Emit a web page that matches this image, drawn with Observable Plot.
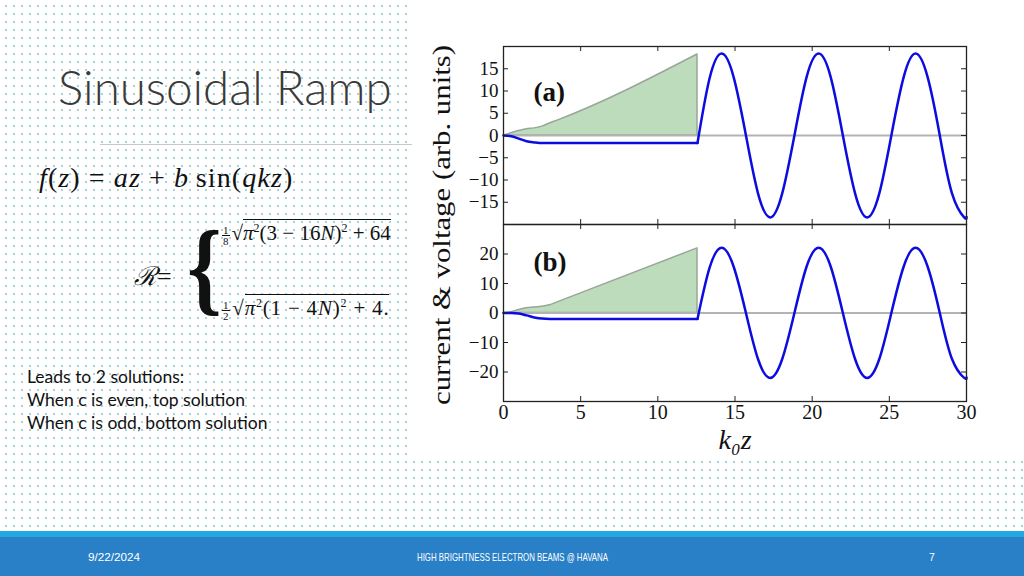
<!DOCTYPE html>
<html>
<head>
<meta charset="utf-8">
<script src="https://cdn.jsdelivr.net/npm/d3@7"></script>
<script src="https://cdn.jsdelivr.net/npm/@observablehq/plot@0.6"></script>
<style>
html,body{margin:0;padding:0;}
body{width:1024px;height:576px;position:relative;overflow:hidden;background-color:#fff;
  background-image:radial-gradient(circle, #a8d3dc 0.8px, rgba(255,255,255,0) 1.3px);
  background-size:8px 8px;background-position:2px 2px;font-family:Lato,"Open Sans",sans-serif;}
.abs{position:absolute;}
#whitebox{left:410px;top:0;width:614px;height:460px;background:#fff;}
#title{left:58px;top:56px;font-family:Lato,sans-serif;font-weight:300;font-size:47.5px;color:#3a3a3a;white-space:nowrap;line-height:62px;}
#rule{left:100px;top:144px;width:312px;height:0;border-top:1.5px solid #c8c8c8;}
.math{font-family:"Liberation Serif",serif;color:#111;white-space:nowrap;}
.fr{display:inline-flex;flex-direction:column;align-items:center;font-size:11px;line-height:10px;vertical-align:middle;margin-right:2px;}
.fr span:first-child{border-bottom:0.8px solid #111;padding:0 1px;}
.rad{border-top:1px solid #111;padding-top:1px;}
sup{font-size:12px;}
#notes{left:27px;top:365px;font-size:17.5px;line-height:23px;color:#111;font-family:Lato,sans-serif;}
#footlight{left:0;top:531px;width:1024px;height:6px;background:#22a7e2;}
#footdark{left:0;top:537px;width:1024px;height:39px;background:#2a80c6;}
.plot{position:absolute;}
</style>
</head>
<body>
<div class="abs" id="whitebox"></div>
<div class="abs" id="title">Sinusoidal Ramp</div>
<div class="abs" id="rule"></div>
<div class="abs math" style="left:39px;top:162px;font-size:28px;letter-spacing:1.1px;"><i>f</i>(<i>z</i>) = <i>az</i> + <i>b</i>&#8201;sin(<i>qkz</i>)</div>
<div class="abs math" style="left:134px;top:257px;font-size:26px;"><i>ℛ</i>=</div>
<div class="abs math" style="left:184px;top:207px;font-size:104px;line-height:120px;font-weight:bold;transform:scaleX(0.85);">{</div>
<div class="abs math" style="left:222px;top:221px;font-size:21px;"><span class="fr"><span>1</span><span>8</span></span>√<span class="rad"><i>π</i><sup>2</sup>(3 − 16<i>N</i>)<sup>2</sup> + 64</span></div>
<div class="abs math" style="left:222px;top:296px;font-size:21px;letter-spacing:0.8px;"><span class="fr"><span>1</span><span>2</span></span>√<span class="rad"><i>π</i><sup>2</sup>(1 − 4<i>N</i>)<sup>2</sup> + 4.</span></div>
<div class="abs" id="notes">Leads to 2 solutions:<br>When c is even, top solution<br>When c is odd, bottom solution</div>
<div class="abs" id="footlight"></div>
<div class="abs" id="footdark"></div>
<div id="pa" class="plot" style="left:440px;top:30px;"></div>
<div id="pb" class="plot" style="left:440px;top:210px;"></div>
<svg class="abs" style="left:0;top:0;pointer-events:none" width="1024" height="576">
  <text transform="translate(450,225) rotate(-90)" text-anchor="middle" font-family="Liberation Serif, serif" font-size="26" fill="#111" textLength="360" lengthAdjust="spacingAndGlyphs">current &amp; voltage (arb. units)</text>
  <g font-family="Liberation Sans, sans-serif" font-size="10.5" fill="#fff">
    <text x="88" y="561" textLength="52" lengthAdjust="spacingAndGlyphs">9/22/2024</text>
    <text x="417" y="561" textLength="191" lengthAdjust="spacingAndGlyphs">HIGH BRIGHTNESS ELECTRON BEAMS @ HAVANA</text>
    <text x="929" y="561">7</text>
  </g>
</svg>
<script>
// ---- data ----
const xTicks = [0, 5, 10, 15, 20, 25, 30];
const yTicksA = [-15, -10, -5, 0, 5, 10, 15];
const yTicksB = [-20, -10, 0, 10, 20];

// panel (a)
const rampXA = [0, 0.5, 1, 1.5, 2, 2.5, 3, 3.5, 12.57];
const rampYA = [0, 0.5, 1.0, 1.4, 1.6, 2.0, 2.7, 3.35, 18.2];
const flatXA = [0, 0.5, 1, 1.5, 2, 2.5, 3, 12.57];
const flatYA = [0, -0.15, -0.7, -1.3, -1.55, -1.7, -1.7, -1.7];
const waveX = [12.57, 13.35, 14.14, 14.92, 15.71, 16.49, 17.28, 18.06, 18.85, 19.63, 20.42, 21.21, 21.99, 22.78, 23.56, 24.35, 25.13, 25.92, 26.70, 27.49, 28.27, 29.06, 29.85, 30];
const waveYA = [-1.7, 12.8, 18.4, 13.0, 0, -13.0, -18.4, -13.0, 0, 13.0, 18.4, 13.0, 0, -13.0, -18.4, -13.0, 0, 13.0, 18.4, 13.0, 0, -13.0, -18.4, -18.3];

// panel (b)
const rampXB = [0, 0.5, 1, 1.5, 2, 2.5, 3, 3.5, 12.57];
const rampYB = [0, 0.3, 1.0, 1.6, 1.9, 2.1, 2.6, 3.6, 21.9];
const flatXB = [0, 0.5, 1, 1.5, 2, 2.5, 3, 12.57];
const flatYB = [0, 0, -0.2, -0.8, -1.5, -1.9, -2.0, -2.0];
const waveYB = [-2.0, 15.3, 22.1, 15.6, 0, -15.6, -22.0, -15.6, 0, 15.6, 22.1, 15.6, 0, -15.6, -22.0, -15.6, 0, 15.6, 22.1, 15.6, 0, -15.6, -22.0, -21.9];

const zip = (xs, ys) => xs.map((x, i) => ({x, y: ys[i]}));

function panel({ramp, flat, wave, yDomain, yTicks, tag, tagDy, height, marginTop, marginBottom, showX}) {
  const width = 540, marginLeft = 63, marginRight = 14;
  const fw = width - marginLeft - marginRight;
  const fh = height - marginTop - marginBottom;
  const tk = 5;
  const marks = [
    Plot.areaY(ramp, {x: "x", y1: 0, y2: "y", fill: "#bcdcbc", stroke: "#9aa59a", strokeWidth: 1.5, curve: "monotone-x"}),
    Plot.ruleY([0], {stroke: "#b3b3b3", strokeWidth: 2}),
    Plot.line(flat, {x: "x", y: "y", stroke: "#0c0ce0", strokeWidth: 2.5, curve: "monotone-x"}),
    Plot.line(wave, {x: "x", y: "y", stroke: "#0c0ce0", strokeWidth: 2.5, curve: "natural"}),
    Plot.tickX(xTicks, {x: d => d, insetTop: fh - tk, stroke: "#222"}),
    Plot.tickX(xTicks, {x: d => d, insetBottom: fh - tk, stroke: "#222"}),
    Plot.tickY(yTicks, {y: d => d, insetLeft: fw - tk, stroke: "#222"}),
    Plot.tickY(yTicks, {y: d => d, insetRight: fw - tk, stroke: "#222"}),
    Plot.frame({stroke: "#222", strokeWidth: 1.3}),
    Plot.axisY(yTicks, {tickSize: 0, tickPadding: 5, label: null, fontSize: 19, fill: "#111"}),
    Plot.text([tag], {frameAnchor: "top-left", text: d => d, dx: 30, dy: tagDy, textAnchor: "start", lineAnchor: "middle", fontWeight: "bold", fontSize: 27, fontFamily: "Liberation Serif, serif", fill: "#111"})
  ];
  if (showX) {
    marks.push(Plot.axisX(xTicks, {tickSize: 0, tickPadding: 3, label: null, fontSize: 20, fill: "#111"}));
    marks.push(Plot.text(["k₀z"], {frameAnchor: "bottom", text: d => d, dy: 39, lineAnchor: "middle", fontStyle: "italic", fontSize: 28, fontFamily: "Liberation Serif, serif", fill: "#111"}));
  } else {
    marks.push(Plot.axisX(xTicks, {tickSize: 0, tickFormat: () => "", label: null}));
  }
  return Plot.plot({
    width, height, marginLeft, marginRight, marginTop, marginBottom,
    style: {background: "transparent", fontFamily: "Liberation Serif, serif", overflow: "visible"},
    x: {domain: [0, 30]},
    y: {domain: yDomain},
    marks
  });
}

document.getElementById("pa").append(panel({
  ramp: zip(rampXA, rampYA), flat: zip(flatXA, flatYA), wave: zip(waveX, waveYA),
  yDomain: [-20, 20], yTicks: yTicksA, tag: "(a)", tagDy: 46,
  height: 196, marginTop: 16, marginBottom: 2, showX: false
}));
document.getElementById("pb").append(panel({
  ramp: zip(rampXB, rampYB), flat: zip(flatXB, flatYB), wave: zip(waveX, waveYB),
  yDomain: [-30, 30], yTicks: yTicksB, tag: "(b)", tagDy: 38,
  height: 251, marginTop: 14, marginBottom: 60, showX: true
}));
</script>
</body>
</html>
